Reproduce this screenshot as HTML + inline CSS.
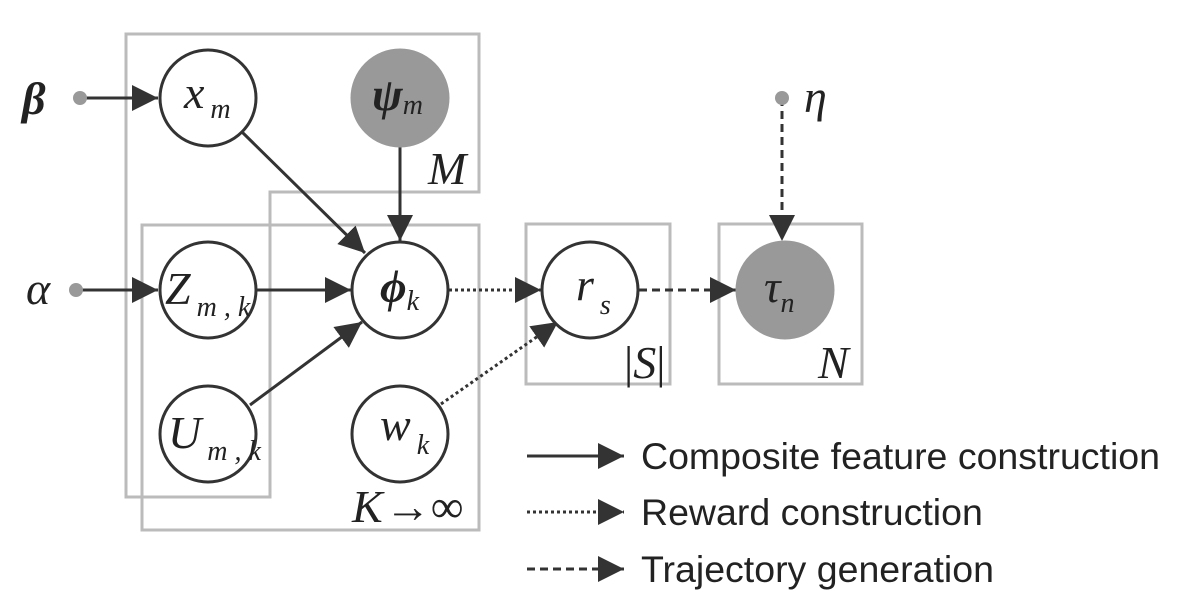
<!DOCTYPE html>
<html><head><style>body{margin:0;background:#fff}svg{display:block}</style></head><body>
<svg width="1193" height="613" viewBox="0 0 1193 613" xmlns="http://www.w3.org/2000/svg">
<defs>
<marker id="b" viewBox="0 0 10 10" refX="10" refY="5" markerWidth="26" markerHeight="26" markerUnits="userSpaceOnUse" orient="auto"><path d="M0,0L10,5L0,10z" fill="#333"/></marker>
</defs>
<g fill="none" stroke="#bbb" stroke-width="3">
<path d="M126,34H479V192H270V497H126Z"/>
<rect x="142" y="225" width="337" height="305"/>
<rect x="526" y="224" width="144" height="160"/>
<rect x="719" y="224" width="143" height="160"/>
</g>
<g stroke="#333" stroke-width="3" fill="none">
<line x1="80" y1="98" x2="158" y2="98" marker-end="url(#b)"/>
<line x1="76" y1="290" x2="158" y2="290" marker-end="url(#b)"/>
<line x1="242" y1="132" x2="365" y2="253" marker-end="url(#b)"/>
<line x1="400" y1="146" x2="400" y2="241" marker-end="url(#b)"/>
<line x1="256" y1="290" x2="351" y2="290" marker-end="url(#b)"/>
<line x1="250" y1="405" x2="362" y2="322" marker-end="url(#b)"/>
<line x1="449" y1="290" x2="541" y2="290" stroke-dasharray="3,3" marker-end="url(#b)"/>
<line x1="441" y1="404" x2="558" y2="322" stroke-dasharray="3,3" marker-end="url(#b)"/>
<line x1="639" y1="290" x2="736" y2="290" stroke-dasharray="8,5" marker-end="url(#b)"/>
<line x1="782" y1="98" x2="782" y2="241" stroke-dasharray="8,5" marker-end="url(#b)"/>
<line x1="527" y1="456" x2="624" y2="456" marker-end="url(#b)"/>
<line x1="527" y1="512" x2="624" y2="512" stroke-dasharray="3,3" marker-end="url(#b)"/>
<line x1="527" y1="569" x2="624" y2="569" stroke-dasharray="8,5" marker-end="url(#b)"/>
</g>
<g stroke="#333" stroke-width="3" fill="#fff">
<circle cx="208" cy="98" r="48"/>
<circle cx="400" cy="98" r="48" fill="#999" stroke="#999"/>
<circle cx="208" cy="290" r="48"/>
<circle cx="400" cy="290" r="48"/>
<circle cx="208" cy="434" r="48"/>
<circle cx="400" cy="434" r="48"/>
<circle cx="590" cy="290" r="48"/>
<circle cx="785" cy="290" r="48" fill="#999" stroke="#999"/>
</g>
<g fill="#999"><circle cx="80" cy="98" r="7"/><circle cx="76" cy="290" r="7"/><circle cx="782" cy="98" r="7"/></g>
<g font-family="Liberation Serif, serif" font-style="italic" fill="#222" font-size="46">
<text x="22" y="114" font-weight="bold">β</text>
<text x="26" y="304">α</text>
<text x="804" y="112">η</text>
<text x="184" y="108">x<tspan font-size="28" dx="6" dy="10">m</tspan></text>
<text x="372" y="110" font-weight="bold">ψ<tspan font-size="28" font-weight="normal" dy="4">m</tspan></text>
<text x="165" y="304">Z<tspan font-size="28" dx="6" dy="12">m , k</tspan></text>
<text x="380" y="302" font-weight="bold">ϕ<tspan font-size="28" font-weight="normal" dy="8">k</tspan></text>
<text x="168" y="448">U<tspan font-size="28" dx="6" dy="12">m , k</tspan></text>
<text x="380" y="440">w<tspan font-size="28" dx="6" dy="14">k</tspan></text>
<text x="576" y="300">r<tspan font-size="28" dx="6" dy="14">s</tspan></text>
<text x="764" y="302">τ<tspan font-size="28" dy="10">n</tspan></text>
<text x="428" y="184">M</text>
<text x="352" y="522">K<tspan font-style="normal" dx="2">→∞</tspan></text>
<text x="624" y="378" font-style="normal">|<tspan font-style="italic">S</tspan>|</text>
<text x="818" y="378">N</text>
</g>
<g font-family="Liberation Sans, sans-serif" font-size="37.5" fill="#222">
<text x="641" y="469">Composite feature construction</text>
<text x="641" y="525">Reward construction</text>
<text x="641" y="582">Trajectory generation</text>
</g>
</svg>
</body></html>
